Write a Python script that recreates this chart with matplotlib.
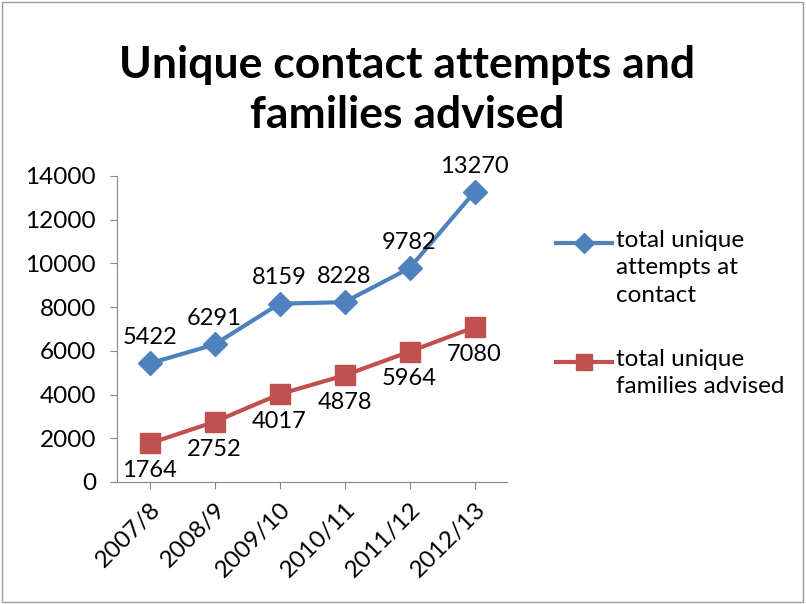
import matplotlib
matplotlib.use('Agg')
import matplotlib.pyplot as plt
from matplotlib.lines import Line2D
from matplotlib.patches import Rectangle

years = ['2007/8', '2008/9', '2009/10', '2010/11', '2011/12', '2012/13']
attempts = [5422, 6291, 8159, 8228, 9782, 13270]
families = [1764, 2752, 4017, 4878, 5964, 7080]
label_attempts = 'total unique\nattempts at\ncontact'
label_families = 'total unique\nfamilies advised'
title = 'Unique contact attempts and\nfamilies advised'

blue = '#4F81BD'
red = '#C0504D'
grey = '#868686'
W, H = 806, 604

plt.rcParams['font.family'] = ['Lato', 'DejaVu Sans']

def fx(x):
    return x / W

def fy(y):
    return 1 - y / H

fig = plt.figure(figsize=(W / 100, H / 100), dpi=100)
fig.patches.append(Rectangle((0.002, 0.003), 0.994, 0.994, transform=fig.transFigure,
                             fill=False, edgecolor='#9a9a9a', linewidth=1.0))

ax = fig.add_axes([fx(117), fy(482), fx(507) - fx(117), fy(176) - fy(482)])
x = list(range(len(years)))
ax.plot(x, attempts, color=blue, linewidth=3, marker='D', markersize=12, zorder=3)
ax.plot(x, families, color=red, linewidth=3, marker='s', markersize=14, zorder=3)

for i, v in enumerate(attempts):
    ax.annotate(str(v), (i, v), xytext=(0, 11), textcoords='offset points',
                ha='center', va='bottom', fontsize=17, color='black')
for i, v in enumerate(families):
    ax.annotate(str(v), (i, v), xytext=(0, -12), textcoords='offset points',
                ha='center', va='top', fontsize=17, color='black')

ax.set_xlim(-0.5, 5.5)
ax.set_ylim(0, 14000)
ax.set_yticks(range(0, 14001, 2000))
ax.set_xticks(x)
ax.set_xticklabels(years, rotation=45, ha='right', rotation_mode='anchor')
ax.tick_params(axis='both', labelsize=17.5, colors=grey, labelcolor='black', length=5)
ax.tick_params(axis='x', pad=7)
ax.tick_params(axis='y', pad=10)
for s in ['top', 'right']:
    ax.spines[s].set_visible(False)
for s in ['left', 'bottom']:
    ax.spines[s].set_color(grey)
ax.set_facecolor('none')

fig.text(fx(407), fy(90), title, ha='center', va='center', fontsize=32,
         fontweight='bold', linespacing=1.3)

# legend
fig.add_artist(Line2D([fx(556), fx(584), fx(612)], [fy(243)] * 3, color=blue, linewidth=3,
                      marker='D', markersize=10, markevery=[1], transform=fig.transFigure))
fig.add_artist(Line2D([fx(556), fx(584), fx(612)], [fy(362)] * 3, color=red, linewidth=3,
                      marker='s', markersize=12, markevery=[1], transform=fig.transFigure))
fig.text(fx(616), fy(230), label_attempts, ha='left', va='top', fontsize=17.5, linespacing=1.38)
fig.text(fx(616), fy(349), label_families, ha='left', va='top', fontsize=17.5, linespacing=1.38)

fig.savefig('out.png', dpi=100)
